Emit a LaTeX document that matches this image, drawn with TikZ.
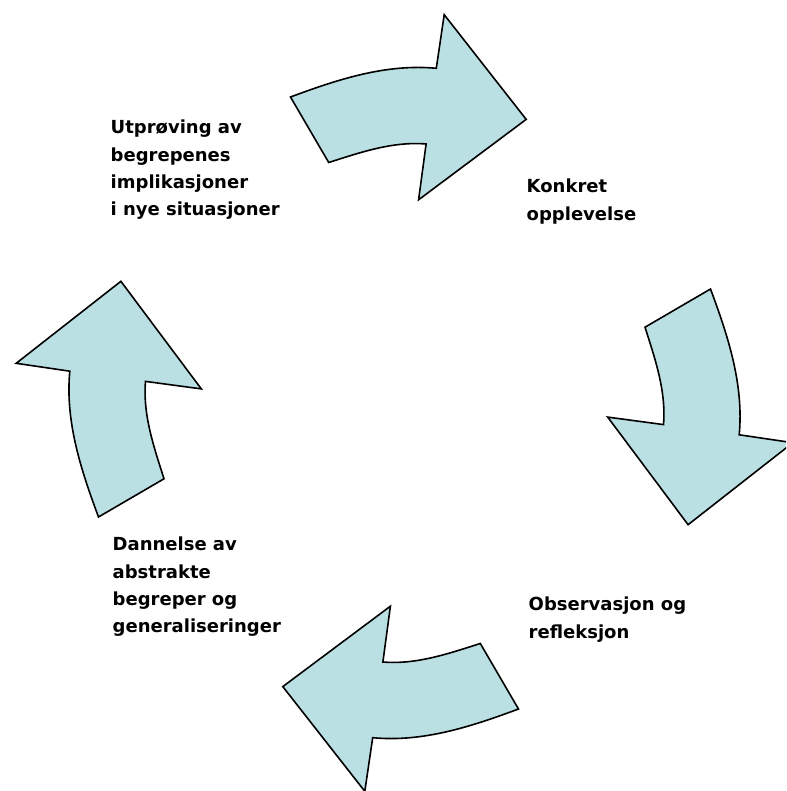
\documentclass[tikz,border=0pt]{standalone}
\usepackage{fontspec}
\setmainfont{DejaVu Sans}
\definecolor{arrowfill}{RGB}{187,224,227}
\begin{document}
\begin{tikzpicture}[x=1pt,y=1pt,
  arr/.style={fill=arrowfill,draw=black,line width=1.6pt,line join=miter},
  lbl/.style={anchor=north west,inner sep=0pt,align=left,font=\fontsize{18}{27.3}\selectfont\bfseries}]
\useasboundingbox (-404.5,-388) rectangle (381.5,403);
\clip (-404.5,-388) rectangle (381.5,403);
\foreach \r in {0,-90,180,90}{
  \draw[arr,rotate=\r] (-114,306) .. controls (-67.7,323.2) and (-18.8,339.5) .. (31.8,334.7)
    -- (39.7,388.3) -- (121.7,283.6) -- (14.1,203.2) -- (21.6,259)
    .. controls (-12.1,261.8) and (-44.5,250.4) .. (-75.8,240.5) -- cycle;
}
\node[lbl] (utp) at (-294,283) {Utprøving av\\begrepenes\\implikasjoner\\i nye situasjoner};
\node[lbl] (kon) at (122,224) {Konkret\\opplevelse};
\node[lbl] (obs) at (124,-194) {Observasjon og\\refleksjon};
\node[lbl] (dan) at (-292,-134) {Dannelse av\\abstrakte\\begreper og\\generaliseringer};
\end{tikzpicture}
\end{document}
